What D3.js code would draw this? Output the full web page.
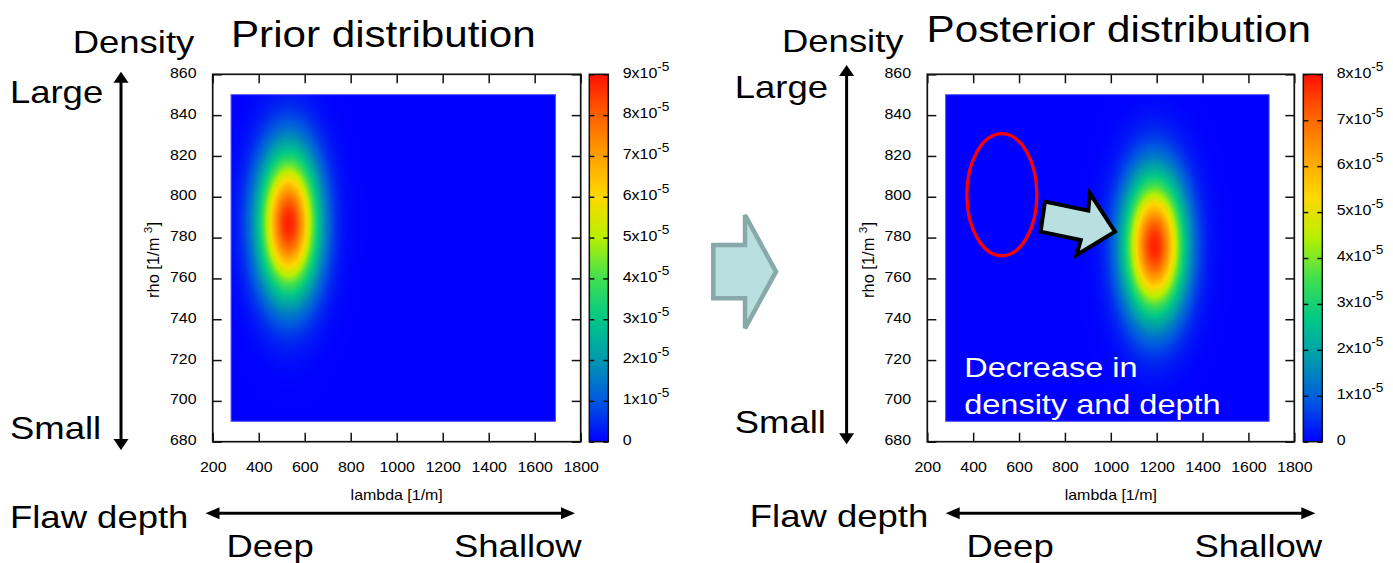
<!DOCTYPE html>
<html>
<head>
<meta charset="utf-8">
<script src="https://cdn.jsdelivr.net/npm/d3@7"></script>
<style>
  html, body { margin: 0; padding: 0; background: #fff; }
  svg { display: block; }
</style>
</head>
<body>
<svg id="fig" width="1393" height="563"></svg>
<script>
// ---- axis ticks ----
const lambdaDomain = [200, 1800];
const rhoDomain = [680, 860];
const lambdaTicks = [200, 400, 600, 800, 1000, 1200, 1400, 1600, 1800];
const rhoTicks = [680, 700, 720, 740, 760, 780, 800, 820, 840, 860];

// ---- evaluated grid extent ----
const gridLambda = [280, 1690];
const gridRho = [690, 850];

// ---- distributions: [prior, posterior] ----
const titles = ["Prior distribution", "Posterior distribution"];
const meanLambda = [530, 1190];
const meanRho = [787, 776];
const sdLambda = [88, 90];
const sdRho = [24, 23.5];
const peakDensity = [8.8e-5, 7.8e-5];

// ---- colour bars ----
const colorbarMax = [9e-5, 8e-5];
const colorbarTicks = [
  [0, 1e-5, 2e-5, 3e-5, 4e-5, 5e-5, 6e-5, 7e-5, 8e-5, 9e-5],
  [0, 1e-5, 2e-5, 3e-5, 4e-5, 5e-5, 6e-5, 7e-5, 8e-5]
];
const paletteStops = [0, 0.111, 0.222, 0.333, 0.444, 0.556, 0.667, 0.778, 0.889, 1];
const paletteColors = ["#0000ff", "#0058e0", "#0098b0", "#00c888", "#40e050",
                       "#b8f000", "#ffd800", "#ffa000", "#ff6000", "#ff1000"];

// ---- layout ----
const SX = 1.14;                      // horizontal glyph stretch
const FONT = "'Liberation Sans', Arial, Helvetica, sans-serif";
const frameLeft = [212.7, 927.3];
const frameRight = [580.7, 1294.3];
const frameTop = 74.3, frameBottom = 441.7;
const cbLeft = [589.3, 1303.3], cbWidth = 19;

const svg = d3.select("#fig").attr("font-family", FONT);
svg.append("rect").attr("width", 1393).attr("height", 563).attr("fill", "#fff");

const palette = d3.scaleLinear().domain(paletteStops).range(paletteColors)
  .interpolate(d3.interpolateRgb).clamp(true);

function txt(parent, x, y, str, size, anchor = "start", fill = "#000") {
  return parent.append("text")
    .attr("transform", `translate(${x},${y}) scale(${SX},1)`)
    .attr("font-size", size).attr("text-anchor", anchor).attr("fill", fill)
    .text(str);
}

function densityImage(k, x, y) {
  const px0 = x(gridLambda[0]), px1 = x(gridLambda[1]);
  const py0 = y(gridRho[1]), py1 = y(gridRho[0]);
  const w = Math.round(px1 - px0), h = Math.round(py1 - py0);
  const cv = document.createElement("canvas");
  cv.width = w; cv.height = h;
  const ctx = cv.getContext("2d");
  const img = ctx.createImageData(w, h);
  for (let j = 0; j < h; j++) {
    const rho = y.invert(py0 + (j + 0.5) * (py1 - py0) / h);
    for (let i = 0; i < w; i++) {
      const lam = x.invert(px0 + (i + 0.5) * (px1 - px0) / w);
      const zx = (lam - meanLambda[k]) / sdLambda[k];
      const zy = (rho - meanRho[k]) / sdRho[k];
      const v = peakDensity[k] * Math.exp(-0.5 * (zx * zx + zy * zy));
      const c = d3.rgb(palette(v / colorbarMax[k]));
      const o = (j * w + i) * 4;
      img.data[o] = c.r; img.data[o + 1] = c.g; img.data[o + 2] = c.b; img.data[o + 3] = 255;
    }
  }
  ctx.putImageData(img, 0, 0);
  return { href: cv.toDataURL(), x: px0, y: py0, w: px1 - px0, h: py1 - py0 };
}

function superscriptLabel(sel) {
  sel.each(function (d) {
    const t = d3.select(this);
    t.text(null);
    if (d === 0) { t.append("tspan").text("0"); return; }
    const m = Math.round(d / 1e-5);
    t.append("tspan").text(m + "x10");
    t.append("tspan").attr("font-size", 12).attr("dy", -7).text("-5");
  });
}

const defs = svg.append("defs");

titles.forEach((title, k) => {
  const g = svg.append("g");
  const x = d3.scaleLinear().domain(lambdaDomain).range([frameLeft[k], frameRight[k]]);
  const y = d3.scaleLinear().domain(rhoDomain).range([frameBottom, frameTop]);

  // density surface
  const im = densityImage(k, x, y);
  g.append("image").attr("href", im.href)
    .attr("x", im.x).attr("y", im.y).attr("width", im.w).attr("height", im.h)
    .attr("preserveAspectRatio", "none");
  g.append("rect").attr("x", im.x).attr("y", im.y).attr("width", im.w).attr("height", im.h)
    .attr("fill", "none").attr("stroke", "#4848ff").attr("stroke-width", 1);

  // axes with inward ticks
  const fmt = d3.format("d");
  const bottom = g.append("g").attr("transform", `translate(0,${frameBottom})`)
    .call(d3.axisBottom(x).tickValues(lambdaTicks).tickFormat(fmt)
      .tickSizeInner(-9).tickSizeOuter(0).tickPadding(20));
  const top = g.append("g").attr("transform", `translate(0,${frameTop})`)
    .call(d3.axisTop(x).tickValues(lambdaTicks).tickSizeInner(-9).tickSizeOuter(0).tickFormat(""));
  const left = g.append("g").attr("transform", `translate(${frameLeft[k]},0)`)
    .call(d3.axisLeft(y).tickValues(rhoTicks).tickFormat(fmt)
      .tickSizeInner(-9).tickSizeOuter(0).tickPadding(16.2 / SX));
  const right = g.append("g").attr("transform", `translate(${frameRight[k]},0)`)
    .call(d3.axisRight(y).tickValues(rhoTicks).tickSizeInner(-9).tickSizeOuter(0).tickFormat(""));
  [bottom, top, left, right].forEach(a => {
    a.select(".domain").remove();
    a.selectAll(".tick line").attr("stroke", "#111").attr("stroke-width", 1.5);
    a.selectAll("text").attr("font-size", 14).attr("font-family", FONT).attr("fill", "#000");
  });
  bottom.selectAll("text").attr("transform", `scale(${SX},1)`);
  left.selectAll("text").attr("transform", `scale(${SX},1)`).attr("dy", "0.22em");

  g.append("rect").attr("x", frameLeft[k]).attr("y", frameTop)
    .attr("width", frameRight[k] - frameLeft[k]).attr("height", frameBottom - frameTop)
    .attr("fill", "none").attr("stroke", "#111").attr("stroke-width", 1.7);

  // axis titles
  txt(g, (frameLeft[k] + frameRight[k]) / 2, 500, "lambda [1/m]", 14, "middle");
  const rl = g.append("text")
    .attr("transform", `translate(${frameLeft[k] - 53.5},260) scale(${SX},1) rotate(-90)`)
    .attr("font-size", 14).attr("text-anchor", "middle")
    .attr("textLength", 76).attr("lengthAdjust", "spacingAndGlyphs");
  rl.append("tspan").text("rho [1/m ");
  rl.append("tspan").attr("font-size", 10).attr("dy", -6).text("3");
  rl.append("tspan").attr("dy", 6).text("]");

  // colour bar
  const gid = "cbgrad" + k;
  const grad = defs.append("linearGradient").attr("id", gid)
    .attr("x1", 0).attr("y1", 1).attr("x2", 0).attr("y2", 0);
  paletteStops.forEach((s, i) => grad.append("stop").attr("offset", s).attr("stop-color", paletteColors[i]));
  const cb = d3.scaleLinear().domain([0, colorbarMax[k]]).range([frameBottom, frameTop]);
  g.append("rect").attr("x", cbLeft[k]).attr("y", frameTop).attr("width", cbWidth)
    .attr("height", frameBottom - frameTop).attr("fill", `url(#${gid})`);
  const cbL = g.append("g").attr("transform", `translate(${cbLeft[k]},0)`)
    .call(d3.axisLeft(cb).tickValues(colorbarTicks[k]).tickSizeInner(-5).tickSizeOuter(0).tickFormat(""));
  const cbR = g.append("g").attr("transform", `translate(${cbLeft[k] + cbWidth},0)`)
    .call(d3.axisRight(cb).tickValues(colorbarTicks[k]).tickSizeInner(-5).tickSizeOuter(0).tickPadding(14.4 / SX));
  [cbL, cbR].forEach(a => {
    a.select(".domain").remove();
    a.selectAll(".tick line").attr("stroke", "#111").attr("stroke-width", 1.5);
  });
  cbR.selectAll("text").attr("font-size", 14).attr("font-family", FONT).attr("fill", "#000")
    .attr("transform", `scale(${SX},1)`).attr("dy", "0.2em")
    .call(superscriptLabel);
  g.append("rect").attr("x", cbLeft[k]).attr("y", frameTop).attr("width", cbWidth)
    .attr("height", frameBottom - frameTop).attr("fill", "none")
    .attr("stroke", "#111").attr("stroke-width", 1.5);
});

// ---- panel titles and direction labels ----
txt(svg, 231, 46.7, titles[0], 37);
txt(svg, 926.6, 41.7, titles[1], 37);

const sideLabels = [
  { text: "Density", x: [72.7, 782], y: [53.3, 51.7] },
  { text: "Large", x: [9.9, 734.7], y: [103.3, 97.7] },
  { text: "Small", x: [10, 734.7], y: [439.3, 433.3] },
  { text: "Flaw depth", x: [10, 749.8], y: [528.3, 526.7] },
  { text: "Deep", x: [226.5, 966.5], y: [557, 556.5] },
  { text: "Shallow", x: [454, 1194.4], y: [557, 556.5] }
];
sideLabels.forEach(l => [0, 1].forEach(k => txt(svg, l.x[k], l.y[k], l.text, 32)));

// double-headed arrows
function vArrow(xc, y0, y1) {
  const hw = 7.5, hl = 11;
  svg.append("line").attr("x1", xc).attr("x2", xc).attr("y1", y0 + hl - 1).attr("y2", y1 - hl + 1)
    .attr("stroke", "#000").attr("stroke-width", 3);
  svg.append("path").attr("d", `M${xc},${y0} L${xc - hw},${y0 + hl} L${xc + hw},${y0 + hl} Z`).attr("fill", "#000");
  svg.append("path").attr("d", `M${xc},${y1} L${xc - hw},${y1 - hl} L${xc + hw},${y1 - hl} Z`).attr("fill", "#000");
}
function hArrow(x0, x1, yc) {
  const hw = 6, hl = 14;
  svg.append("line").attr("x1", x0 + hl - 1).attr("x2", x1 - hl + 1).attr("y1", yc).attr("y2", yc)
    .attr("stroke", "#000").attr("stroke-width", 3);
  svg.append("path").attr("d", `M${x0},${yc} L${x0 + hl},${yc - hw} L${x0 + hl},${yc + hw} Z`).attr("fill", "#000");
  svg.append("path").attr("d", `M${x1},${yc} L${x1 - hl},${yc - hw} L${x1 - hl},${yc + hw} Z`).attr("fill", "#000");
}
vArrow(121, 71.7, 450);
vArrow(846.6, 65, 444.3);
hArrow(205.5, 575, 513.3);
hArrow(945.7, 1315.3, 513.3);

// block arrow between the panels
svg.append("path")
  .attr("d", "M713.3,245 L745,245 L745,215 L776,271.7 L745,328.3 L745,298.3 L713.3,298.3 Z")
  .attr("fill", "#b9dfe1").attr("stroke", "#88a9a9").attr("stroke-width", 4.5)
  .attr("stroke-linejoin", "miter");

// ---- posterior annotations (placed in data coordinates) ----
{
  const x = d3.scaleLinear().domain(lambdaDomain).range([frameLeft[1], frameRight[1]]);
  const y = d3.scaleLinear().domain(rhoDomain).range([frameBottom, frameTop]);
  const g = svg.append("g");
  // previous location of the peak
  g.append("ellipse")
    .attr("cx", x(525)).attr("cy", y(801))
    .attr("rx", x(525 + 152.6) - x(525)).attr("ry", y(801) - y(801 + 29.9))
    .attr("fill", "none").attr("stroke", "#ff0000").attr("stroke-width", 3.3);
  // shift arrow
  const shift = [[713, 797.6], [902, 793.2], [909, 801.7], [1018, 782.9],
                 [851, 771.5], [869, 778.8], [694, 782.9]];
  g.append("path")
    .attr("d", d3.line().x(d => x(d[0])).y(d => y(d[1]))(shift) + "Z")
    .attr("fill", "#b9dfe0").attr("stroke", "#000").attr("stroke-width", 4)
    .attr("stroke-linejoin", "miter");
  txt(g, x(361), y(711.5), "Decrease in", 28.5, "start", "#fff");
  txt(g, x(361), y(693.7), "density and depth", 28.5, "start", "#fff");
}
</script>
</body>
</html>
